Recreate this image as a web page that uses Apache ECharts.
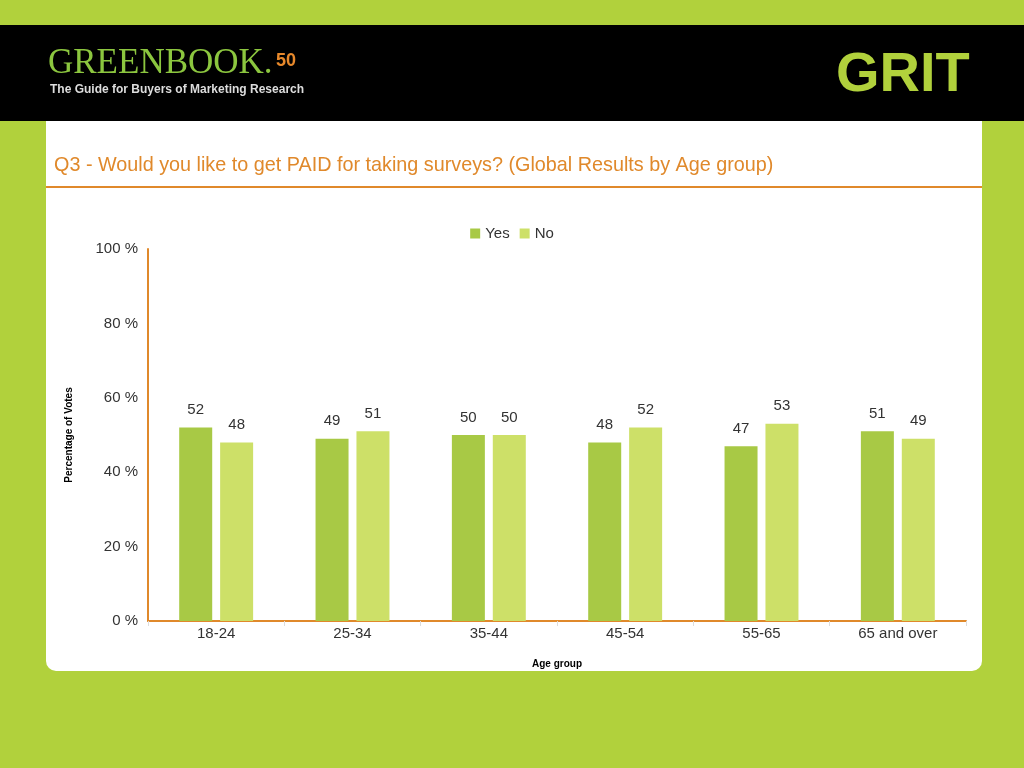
<!DOCTYPE html>
<html><head><meta charset="utf-8">
<script src="https://cdn.jsdelivr.net/npm/echarts@6/dist/echarts.min.js"></script>
<style>html,body{margin:0;padding:0;background:#b1d13c}#c{width:1024px;height:768px}</style>
</head><body><div id="c"></div>
<script>
const categories = ['18-24','25-34','35-44','45-54','55-65','65 and over'];
const yesValues = [52,49,50,48,47,51];
const noValues = [48,51,50,52,53,49];
const yTicks = [0,20,40,60,80,100];
const chart = echarts.init(document.getElementById('c'));
const lbl = {show:true, position:'top', distance:10, color:'#333', fontSize:15, fontFamily:'Liberation Sans, Arial'};
chart.setOption({
  backgroundColor:'#b1d13c',
  graphic:[
    {type:'rect', shape:{x:0,y:25,width:1024,height:96}, style:{fill:'#000'}},
    {type:'rect', shape:{x:46,y:121,width:936,height:550,r:[0,0,10,10]}, style:{fill:'#fff'}},
    {type:'text', left:48, top:46, style:{text:'GREENBOOK.', fill:'#8cc63f', font:'35px "Liberation Serif", serif'}},
    {type:'text', left:276, top:52, style:{text:'50', fill:'#e8892b', font:'bold 18px "Liberation Sans", sans-serif'}},
    {type:'text', left:50, top:84, style:{text:'The Guide for Buyers of Marketing Research', fill:'#ddd', font:'bold 12px "Liberation Sans", sans-serif'}},
    {type:'text', left:836, top:48, style:{text:'GRIT', fill:'#b1d13c', font:'bold 56px "Liberation Sans", sans-serif'}},
    {type:'text', left:54, top:156, style:{text:'Q3 - Would you like to get PAID for taking surveys? (Global Results by Age group)', fill:'#e0892b', font:'19.8px "Liberation Sans", Arial'}},
    {type:'rect', shape:{x:46,y:186,width:936,height:2}, style:{fill:'#e0892b'}}
  ],
  legend:{top:221, left:'center', itemWidth:10, itemHeight:10, itemGap:10, icon:'rect',
    textStyle:{fontSize:15, color:'#333', fontFamily:'Liberation Sans, Arial'}},
  grid:{left:148, right:58, top:249, bottom:147},
  xAxis:{type:'category', data:categories, name:'Age group', nameLocation:'middle', nameGap:38,
    nameTextStyle:{fontSize:10, fontWeight:'bold', color:'#000'},
    axisLine:{lineStyle:{color:'#e0892b', width:2}}, axisTick:{show:true, lineStyle:{color:'#ddd'}},
    axisLabel:{fontSize:15, color:'#333', margin:5, fontFamily:'Liberation Sans, Arial'}},
  yAxis:{type:'value', min:0, max:100, interval:20, name:'Percentage of Votes', nameLocation:'middle', nameGap:74,
    nameTextStyle:{fontSize:10, fontWeight:'bold', color:'#000'},
    axisLine:{show:true, lineStyle:{color:'#e0892b', width:2}}, splitLine:{show:false},
    axisLabel:{fontSize:15, color:'#333', margin:10, fontFamily:'Liberation Sans, Arial', formatter:v=>yTicks.includes(v)?v+' %':''}},
  series:[
    {name:'Yes', type:'bar', data:yesValues, barWidth:33, barGap:'24%', itemStyle:{color:'#a8c945'}, label:lbl},
    {name:'No', type:'bar', data:noValues, barWidth:33, itemStyle:{color:'#cde068'}, label:lbl}
  ]
});
</script></body></html>
